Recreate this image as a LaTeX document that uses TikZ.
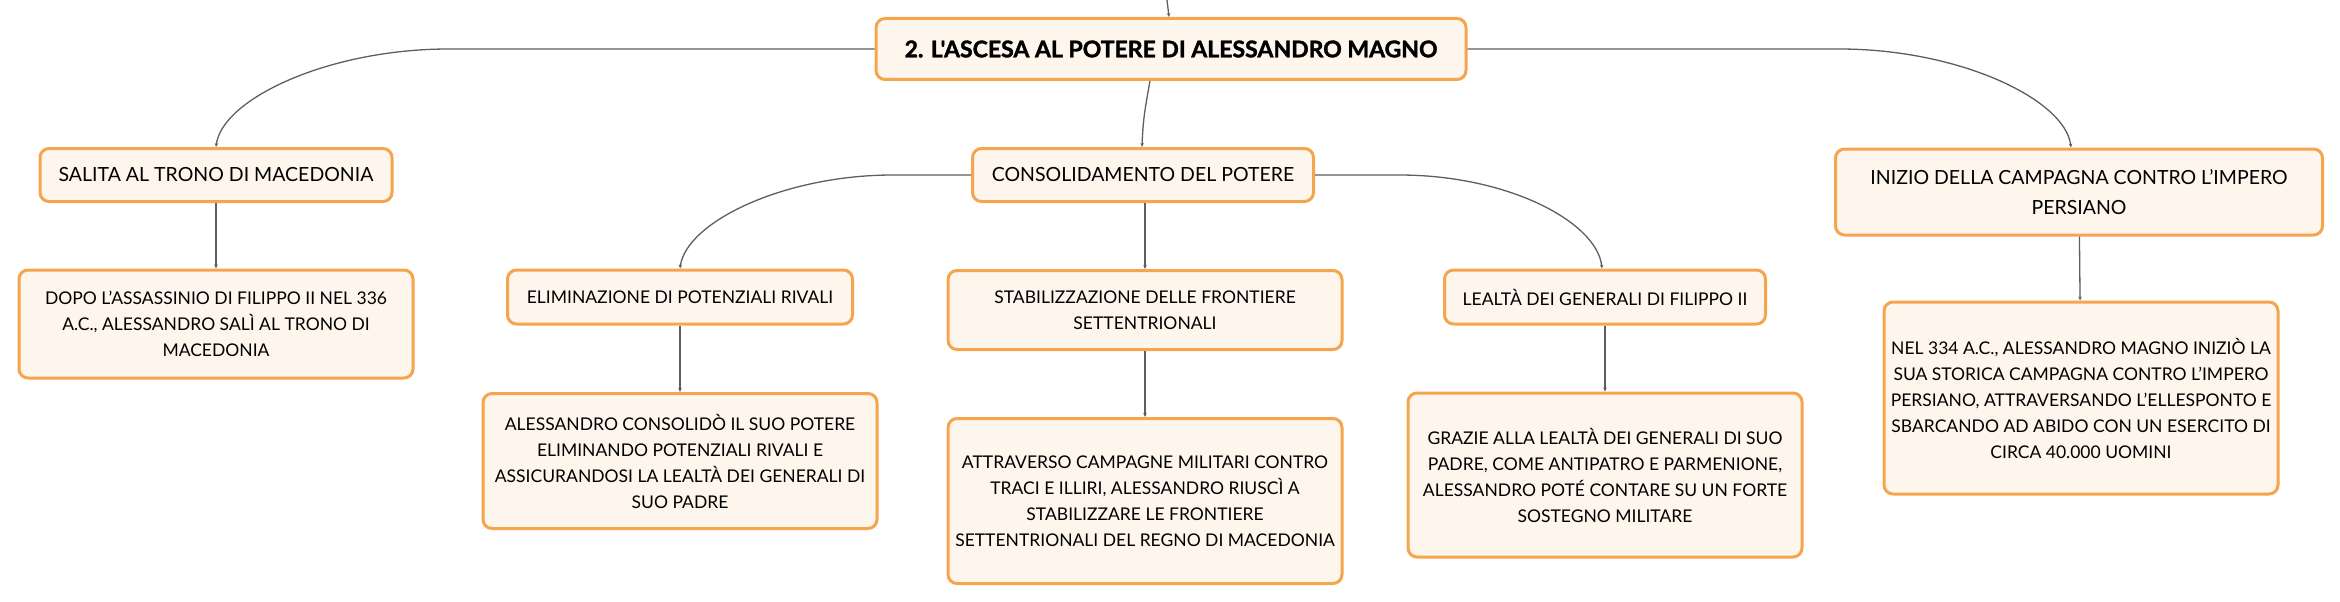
\documentclass[tikz,border=0pt]{standalone}
\usepackage{fontspec}
\setmainfont{Lato}
\newfontfamily\rootfont{Lato}[BoldFeatures={FakeBold=1.6}]
\usetikzlibrary{arrows.meta,calc}
\definecolor{boxline}{HTML}{F4A54E}
\definecolor{boxfill}{HTML}{FEF5EC}
\definecolor{linkgray}{HTML}{5E5E5E}
\tikzset{
  box/.style={draw=boxline,fill=boxfill,line width=3pt,rounded corners=9pt,align=center,inner sep=0pt},
  rootbox/.style={box,font=\rootfont\bfseries\fontsize{23}{28}\selectfont},
  topicbox/.style={box,font=\fontsize{19.5}{30}\selectfont},
  subbox/.style={box,font=\fontsize{17.5}{26}\selectfont},
  link/.style={draw=linkgray,line width=1.3pt,-{Stealth[length=4pt,width=3.5pt]}}
}
\begin{document}
\begin{tikzpicture}[x=1pt,y=-1pt]
\useasboundingbox (0,0) rectangle (2340,602);
% nodes
\node[rootbox,minimum width=590,minimum height=61](root)at(1171,49){2. L'ASCESA AL POTERE DI ALESSANDRO MAGNO};
\node[topicbox,minimum width=352,minimum height=53](salita)at(216,175){SALITA AL TRONO DI MACEDONIA};
\node[topicbox,minimum width=341,minimum height=53](consol)at(1143,175){CONSOLIDAMENTO DEL POTERE};
\node[topicbox,minimum width=487,minimum height=86](inizio)at(2079,192){INIZIO DELLA CAMPAGNA CONTRO L'IMPERO\\PERSIANO};
\node[subbox,minimum width=394,minimum height=108](dopo)at(216,324){DOPO L'ASSASSINIO DI FILIPPO II NEL 336\\A.C., ALESSANDRO SALÌ AL TRONO DI\\MACEDONIA};
\node[subbox,minimum width=345,minimum height=54](elim)at(680,297){ELIMINAZIONE DI POTENZIALI RIVALI};
\node[subbox,minimum width=394,minimum height=79](stab)at(1145,310){STABILIZZAZIONE DELLE FRONTIERE\\SETTENTRIONALI};
\node[subbox,minimum width=321,minimum height=54](lealta)at(1605,297){LEALTÀ DEI GENERALI DI FILIPPO II};
\node[subbox,minimum width=394,minimum height=135](aless)at(680,461){ALESSANDRO CONSOLIDÒ IL SUO POTERE\\ELIMINANDO POTENZIALI RIVALI E\\ASSICURANDOSI LA LEALTÀ DEI GENERALI DI\\SUO PADRE};
\node[subbox,minimum width=394,minimum height=165](attrav)at(1145,501){ATTRAVERSO CAMPAGNE MILITARI CONTRO\\TRACI E ILLIRI, ALESSANDRO RIUSCÌ A\\STABILIZZARE LE FRONTIERE\\SETTENTRIONALI DEL REGNO DI MACEDONIA};
\node[subbox,minimum width=394,minimum height=164](grazie)at(1605,475){GRAZIE ALLA LEALTÀ DEI GENERALI DI SUO\\PADRE, COME ANTIPATRO E PARMENIONE,\\ALESSANDRO POTÉ CONTARE SU UN FORTE\\SOSTEGNO MILITARE};
\node[subbox,minimum width=394,minimum height=192](nel)at(2081,398){NEL 334 A.C., ALESSANDRO MAGNO INIZIÒ LA\\SUA STORICA CAMPAGNA CONTRO L'IMPERO\\PERSIANO, ATTRAVERSANDO L'ELLESPONTO E\\SBARCANDO AD ABIDO CON UN ESERCITO DI\\CIRCA 40.000 UOMINI};
\coordinate(up)at(1167,0);
% links
\draw[link](up)..controls(1168,8)..($(root.north)+(-2,0)$);
\draw[link](root.west)--++(-426,0)..controls++(-120,0)and($(salita.north)+(6,-48)$)..(salita.north);
\draw[link](root.east)--++(372,0)..controls++(120,0)and($(inizio.north)+(-14,-48)$)..($(inizio.north)+(-8,0)$);
\draw[link]($(root.south)+(-21,0)$)..controls++(-5,28)and++(1,-28)..($(consol.north)+(-1,0)$);
\draw[link](consol.west)--++(-78,0)..controls++(-110,0)and($(elim.north)+(6,-46)$)..(elim.north);
\draw[link](consol.east)--++(84,0)..controls++(110,0)and($(lealta.north)+(-8,-46)$)..($(lealta.north)+(-3,0)$);
\draw[link]($(consol.south)+(2,0)$)--(stab);
\draw[link](salita)--(dopo);
\draw[link](elim)--(aless);
\draw[link](stab)--(attrav);
\draw[link](lealta)--(grazie);
\draw[link](inizio)--(nel);
\end{tikzpicture}
\end{document}
